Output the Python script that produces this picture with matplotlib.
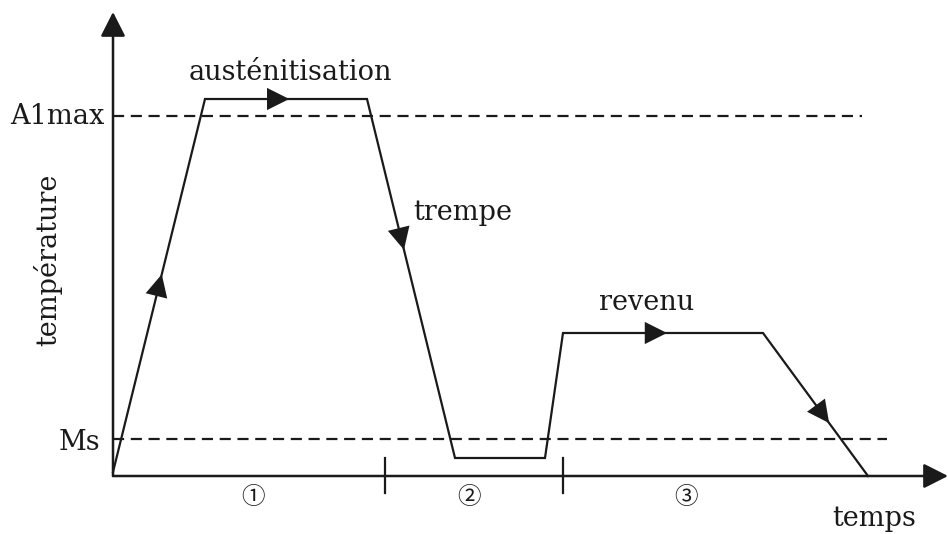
import matplotlib
matplotlib.use('Agg')
import matplotlib.pyplot as plt
import numpy as np

# heat treatment cycle (arbitrary units: time, temperature)
time = [0, 92, 254, 342, 432, 450, 650, 755]
temp = [4, 377, 377, 18, 18, 143, 143, 0]

a1max = 360
ms = 37
phase_bounds = [272, 450]
phase_labels = ['①', '②', '③']
phase_centers = [140, 356, 573]

# arrows along the path: (segment index, fraction of segment where the tip is)
path_arrows = [(0, 0.53), (1, 0.52), (2, 0.42), (5, 0.52), (6, 0.63)]

plt.rcParams['font.family'] = ['DejaVu Serif', 'DejaVu Sans']
fs = 19.5
col = '#1a1a1a'

fig = plt.figure(figsize=(9.48, 5.34), dpi=100)
ax = fig.add_axes([0, 0, 1, 1])
ax.set_xlim(-113, 835)
ax.set_ylim(-58, 476)
ax.axis('off')

# axes with arrow heads
ax.annotate('', xy=(835, 0), xytext=(0, 0),
            arrowprops=dict(arrowstyle='-|>,head_length=0.75,head_width=0.38',
                            mutation_scale=20, lw=1.8, color=col, shrinkA=0, shrinkB=0))
ax.annotate('', xy=(0, 464), xytext=(0, 0),
            arrowprops=dict(arrowstyle='-|>,head_length=0.75,head_width=0.38',
                            mutation_scale=20, lw=1.8, color=col, shrinkA=0, shrinkB=0))

# reference temperatures
ax.plot([0, 749], [a1max, a1max], ls=(0, (5, 3)), lw=1.6, color=col)
ax.plot([0, 774], [ms, ms], ls=(0, (5, 3)), lw=1.6, color=col)

# phase separators
for b in phase_bounds:
    ax.plot([b, b], [18, -17], lw=1.6, color=col)
for lab, c in zip(phase_labels, phase_centers):
    ax.text(c, -21, lab, fontsize=17, ha='center', va='center', color=col,
            family=['Noto Sans CJK JP', 'DejaVu Sans'])

# the cycle
ax.plot(time, temp, lw=1.6, color=col, solid_joinstyle='miter')
for i, f in path_arrows:
    x0, y0 = time[i], temp[i]
    x1, y1 = time[i + 1], temp[i + 1]
    tx, ty = x0 + f * (x1 - x0), y0 + f * (y1 - y0)
    d = np.hypot(x1 - x0, y1 - y0)
    bx, by = tx - 20 * (x1 - x0) / d, ty - 20 * (y1 - y0) / d
    ax.annotate('', xy=(tx, ty), xytext=(bx, by),
                arrowprops=dict(arrowstyle='-|>,head_length=0.8,head_width=0.4',
                                mutation_scale=20, lw=0, color=col,
                                shrinkA=0, shrinkB=0))

# labels
ax.text(-8, a1max, 'A1max', fontsize=fs, ha='right', va='center', color=col)
ax.text(-13, ms - 3, 'Ms', fontsize=fs, ha='right', va='center', color=col)
ax.text(177, 404, 'austénitisation', fontsize=fs, ha='center', va='center', color=col)
ax.text(300, 263, 'trempe', fontsize=fs, ha='left', va='center', color=col)
ax.text(534, 173, 'revenu', fontsize=fs, ha='center', va='center', color=col)
ax.text(761, -42, 'temps', fontsize=fs, ha='center', va='center', color=col)
ax.text(-65, 216, 'température', fontsize=fs, ha='center', va='center',
        rotation=90, color=col)

plt.savefig('out.png', dpi=100)
